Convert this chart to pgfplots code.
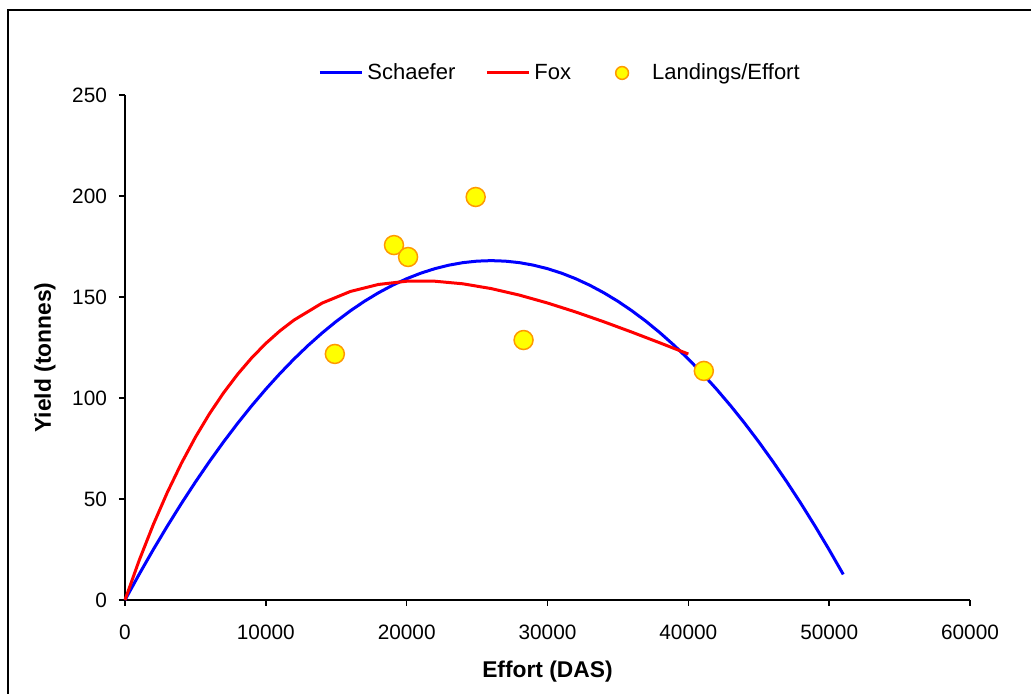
\documentclass[border=0pt]{standalone}
\usepackage{fontspec}
\setmainfont{Liberation Sans}
\usepackage{pgfplots}
\pgfplotsset{compat=1.18}
\definecolor{schblue}{RGB}{0,0,255}
\definecolor{foxred}{RGB}{255,0,0}
\definecolor{mkfill}{RGB}{255,255,0}
\definecolor{mkedge}{RGB}{255,153,0}

\pgfplotsset{
    lineleg/.style={legend image code/.code={\draw[##1] (0pt,0pt) -- (21pt,0pt);}},
    markleg/.style={legend image code/.code={
        \path[draw=none, fill=none] (0pt,-2pt) rectangle (23.5pt,2pt);
        \draw[##1, mark size=3.2pt] plot coordinates {(10.5pt,0pt)};}},
}

\begin{document}
\begin{tikzpicture}
\begin{axis}[
    name=ax,
    at={(0pt,0pt)}, anchor=south west,
    scale only axis,
    width=422.5pt, height=252.5pt,
    xmin=0, xmax=60000, ymin=0, ymax=250,
    xtick={0,10000,...,60000}, ytick={0,50,...,250},
    axis x line=bottom, axis y line=left,
    axis line style={-, line width=0.75pt},
    tick style={line width=0.75pt, black},
    tick align=outside, major tick length=3pt,
    /pgf/number format/assume math mode=true,
    scaled x ticks=false,
    xticklabel style={font=\fontsize{10.4}{12}\selectfont, yshift=-6pt},
    yticklabel style={font=\fontsize{10.4}{12}\selectfont, xshift=-2.5pt},
    x tick label style={/pgf/number format/.cd, 1000 sep={}},
    xlabel={\textbf{Effort (DAS)}},
    ylabel={\textbf{Yield (tonnes)}},
    xlabel style={font=\fontsize{11.4}{13}\selectfont, at={(axis description cs:0.5,-0.1426)}, anchor=center},
    ylabel style={font=\fontsize{11.4}{13}\selectfont, at={(axis description cs:-0.0947,0.48)}, anchor=center, rotate=0},
    clip=false,
    legend columns=3,
    legend style={draw=none, fill=none, at={(axis description cs:0.516,1.0436)}, anchor=center,
        font=\fontsize{11}{12}\selectfont,
        /tikz/every even column/.append style={column sep=13pt}},
    legend cell align=left,
]
\addplot[schblue, line width=1.5pt, mark=none, lineleg]
coordinates {
(0,0) (1000,12.67) (2000,24.85) (3000,36.53) (4000,47.72) (5000,58.40)
(6000,68.59) (7000,78.29) (8000,87.48) (9000,96.18) (10000,104.38)
(11000,112.08) (12000,119.29) (13000,126.00) (14000,132.21) (15000,137.93)
(16000,143.15) (17000,147.87) (18000,152.09) (19000,155.82) (20000,159.05)
(21000,161.79) (22000,164.02) (23000,165.76) (24000,167.01) (25000,167.75)
(26000,168.00) (27000,167.75) (28000,167.01) (29000,165.76) (30000,164.02)
(31000,161.79) (32000,159.05) (33000,155.82) (34000,152.09) (35000,147.87)
(36000,143.15) (37000,137.93) (38000,132.21) (39000,126.00) (40000,119.29)
(41000,112.08) (42000,104.38) (43000,96.18) (44000,87.48) (45000,78.29)
(46000,68.59) (47000,58.40) (48000,47.72) (49000,36.53) (50000,24.85)
(51000,12.67)
};
\addlegendentry{Schaefer}
\addplot[foxred, line width=1.5pt, mark=none, lineleg]
coordinates {
(0,0) (1000,19.50) (2000,37.18) (3000,53.18) (4000,67.61) (5000,80.59)
(6000,92.21) (7000,102.57) (8000,111.77) (9000,119.90) (10000,127.03)
(11000,133.23) (12000,138.58) (14000,146.99) (16000,152.73) (18000,156.21)
(20000,157.80) (22000,157.81) (24000,156.52) (26000,154.16) (28000,150.94)
(30000,147.02) (32000,142.58) (34000,137.73) (36000,132.58) (38000,127.24)
(40000,121.77)
};
\addlegendentry{Fox}
\addplot[only marks, mark=*, mark size=4.75pt,
    mark options={fill=mkfill, draw=mkedge, line width=0.75pt}, markleg]
coordinates {
(14900,121.8) (19100,175.7) (20100,169.8) (24900,199.5) (28300,128.7) (41100,113.4)
};
\addlegendentry{Landings/Effort}
\end{axis}
\draw[line width=1pt] (-58.5pt,-60pt) -- (-58.5pt,295pt) -- (480pt,295pt);
\pgfresetboundingbox
\path[use as bounding box] (-62.5pt,-47pt) rectangle (453pt,300pt);
\end{tikzpicture}
\end{document}
